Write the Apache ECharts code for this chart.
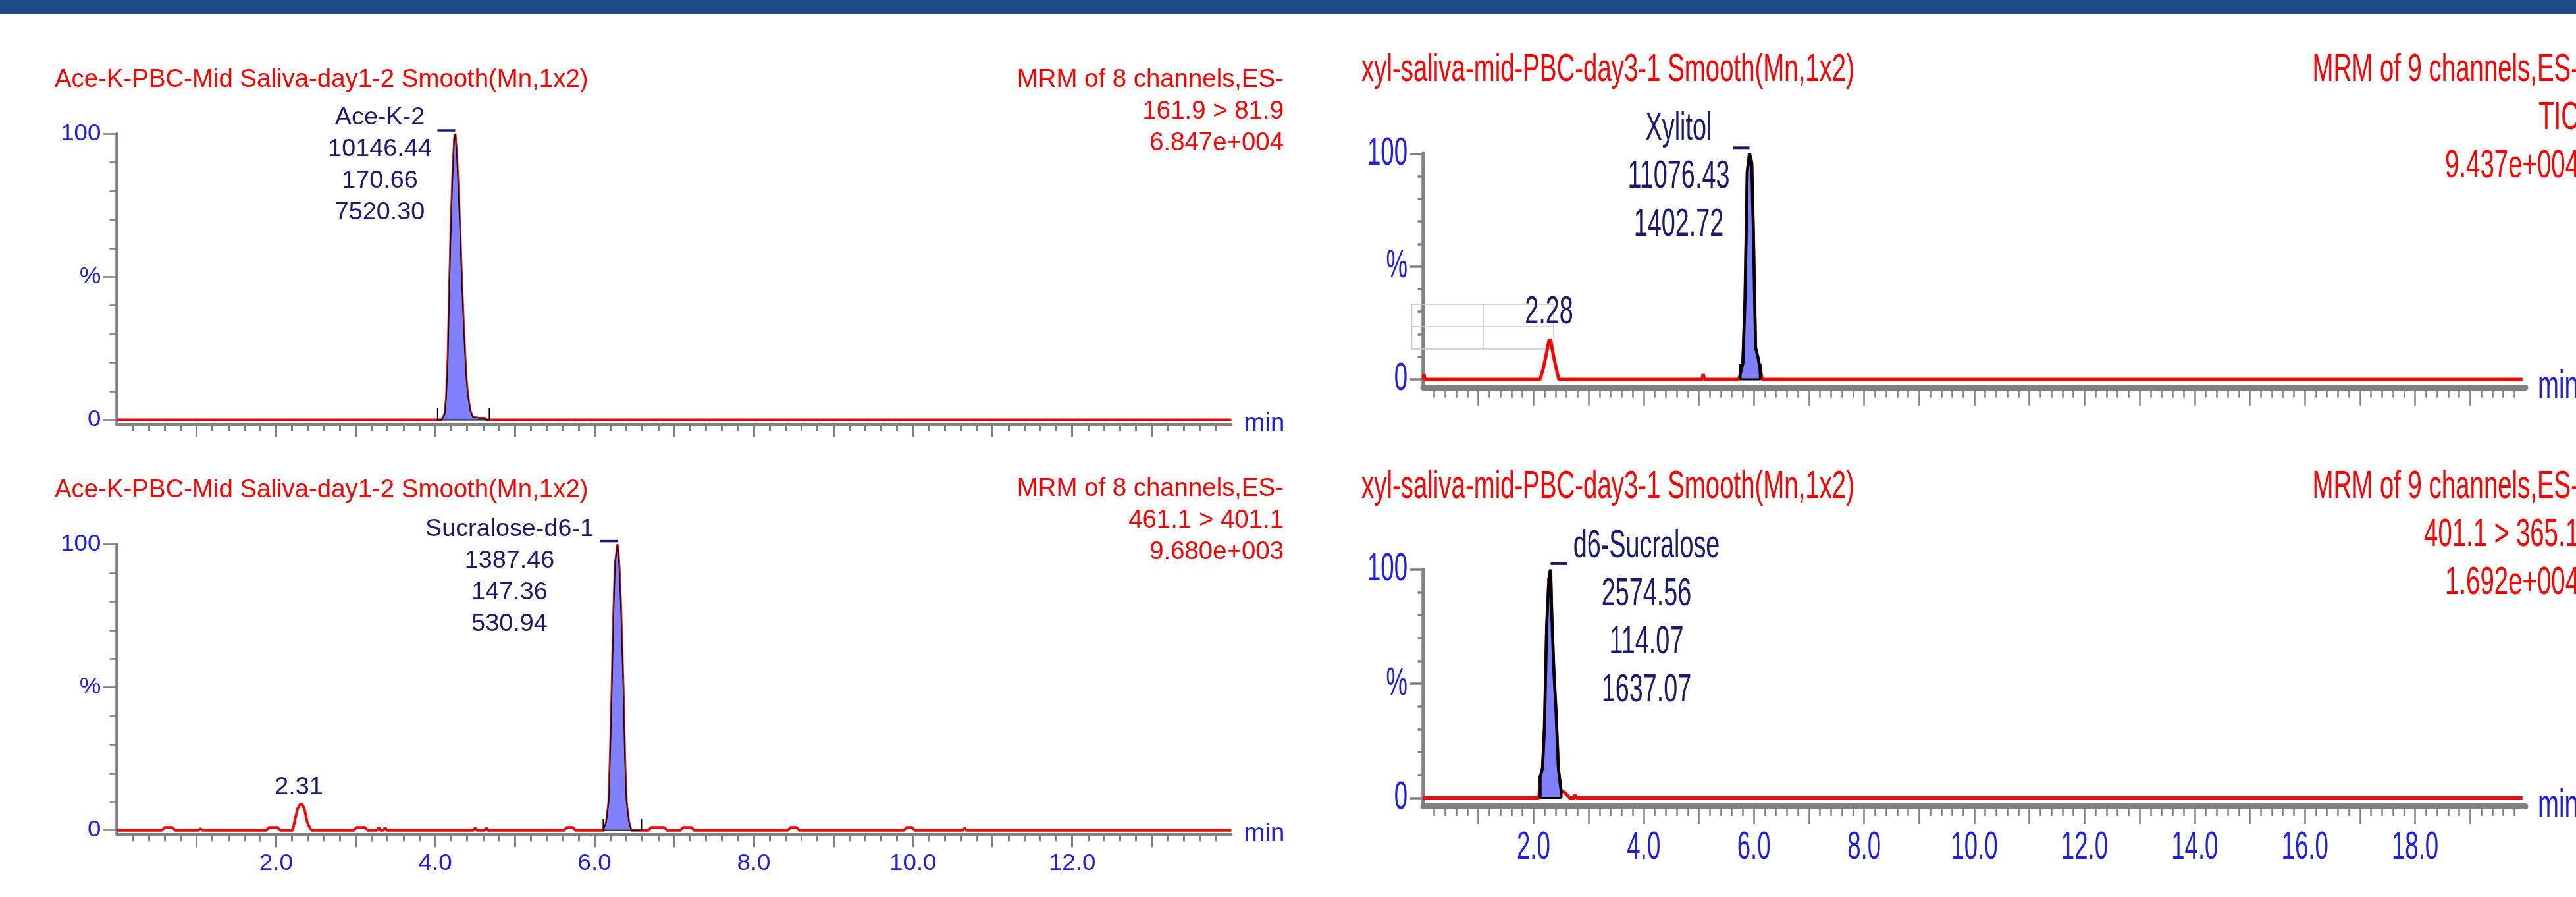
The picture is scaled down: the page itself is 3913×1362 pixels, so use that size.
<!DOCTYPE html>
<html>
<head>
<meta charset="utf-8">
<title>MRM chromatograms</title>
<script src="https://cdn.jsdelivr.net/npm/echarts@6/dist/echarts.min.js"></script>
<style>
  html, body { margin: 0; padding: 0; background: #fff; }
  #chart { width: 3913px; height: 1362px; }
</style>
</head>
<body>
<div id="chart"></div>
<script>
// ---- values: [retention time (min), intensity (%)] ----
const aceKTrace = [[0,0],[4.08,0],[4.12,2],[4.14,8],[4.16,22],[4.18,48],[4.20,70],[4.22,86],[4.24,98],[4.25,100],
  [4.27,92],[4.29,80],[4.31,66],[4.33,50],[4.35,36],[4.37,24],[4.39,14],[4.41,8],[4.44,3],[4.47,1],[4.55,0.6],
  [4.62,0.6],[4.64,0],[14,0]]
const sucraloseD6Trace = [[0,0],[0.57,0],[0.60,1],[0.70,1],[0.73,0],[1.03,0],[1.05,0.7],[1.07,0],[1.88,0],[1.91,1],
  [2.02,1],[2.05,0],[2.21,0],[2.24,4],[2.27,7.5],[2.30,9],[2.33,9],[2.36,7],[2.39,3],[2.43,0.5],[2.45,0],[2.98,0],
  [3.01,1],[3.12,1],[3.15,0],[3.27,0],[3.29,1],[3.31,0],[3.35,0],[3.37,1],[3.39,0],[4.48,0],[4.50,0.8],[4.52,0],
  [4.62,0],[4.64,0.8],[4.66,0],[5.62,0],[5.65,1],[5.73,1],[5.76,0],[6.12,0],[6.15,3],[6.18,10],[6.20,28],[6.22,50],
  [6.24,75],[6.26,93],[6.29,100],[6.31,92],[6.33,78],[6.36,50],[6.38,25],[6.40,10],[6.43,3],[6.46,0],[6.68,0],
  [6.71,1],[6.88,1],[6.91,0],[7.08,0],[7.11,1],[7.22,1],[7.25,0],[8.43,0],[8.46,1],[8.54,1],[8.57,0],[9.89,0],
  [9.92,1],[9.99,1],[10.02,0],[10.63,0],[10.65,0.8],[10.67,0],[14,0]]
const xylitolTrace = [[0,0],[0.01,2.3],[0.03,0],[2.12,0],[2.18,5],[2.24,12],[2.28,17],[2.31,17.5],[2.35,12],
  [2.41,5],[2.46,0],[5.06,0],[5.08,2.3],[5.10,0],[5.72,0],[5.75,2],[5.80,7],[5.84,36],[5.88,92],[5.92,100],
  [5.96,96],[5.99,65],[6.03,14],[6.07,10],[6.11,5],[6.15,0],[19.95,0]]
const d6SucraloseTrace = [[0,0],[2.10,0],[2.12,9],[2.165,13],[2.20,31],[2.24,75],[2.28,96],[2.31,100],[2.33,81],
  [2.37,55],[2.41,37],[2.45,13],[2.50,3],[2.56,2.5],[2.62,1],[2.66,0],[2.74,0],[2.76,1.5],[2.78,0],[19.95,0]]

// integration windows [start, end] (min) and apex of the integrated peak
const aceKWindow = [4.03, 4.68]
const sucraloseD6Window = [6.11, 6.59]
const xylitolWindow = [5.75, 6.12]
const d6SucraloseWindow = [2.12, 2.50]
const aceKApex = [4.25, 100]
const sucraloseD6Apex = [6.29, 100]
const xylitolApex = [5.92, 100]
const d6SucraloseApex = [2.31, 100]

// texts
const leftTitle = 'Ace-K-PBC-Mid Saliva-day1-2 Smooth(Mn,1x2)'
const rightTitle = 'xyl-saliva-mid-PBC-day3-1 Smooth(Mn,1x2)'
const aceKInfo = ['MRM of 8 channels,ES-', '161.9 > 81.9', '6.847e+004']
const sucraloseD6Info = ['MRM of 8 channels,ES-', '461.1 > 401.1', '9.680e+003']
const xylitolInfo = ['MRM of 9 channels,ES-', 'TIC', '9.437e+004']
const d6SucraloseInfo = ['MRM of 9 channels,ES-', '401.1 > 365.1', '1.692e+004']
const aceKLabel = ['Ace-K-2', '10146.44', '170.66', '7520.30']
const sucraloseD6Label = ['Sucralose-d6-1', '1387.46', '147.36', '530.94']
const xylitolLabel = ['Xylitol', '11076.43', '1402.72']
const d6SucraloseLabel = ['d6-Sucralose', '2574.56', '114.07', '1637.07']
const minorPeakLeft = '2.31'
const minorPeakRight = '2.28'

// tick labels
const leftTimeTicks = [2, 4, 6, 8, 10, 12]
const rightTimeTicks = [2, 4, 6, 8, 10, 12, 14, 16, 18]
const intensityTicks = [100, 50, 0]
const intensityTickLabels = ['100', '%', '0']
const intensityMinorTicks = [10, 20, 30, 40, 60, 70, 80, 90]

// ---- look ----
const RED = '#ff0000'
const GREY = '#808080'
const BLUE = '#1e1ee6'
const NAVY = '#1a1a72'
const FILL = '#8080ff'
const FONT = '"Liberation Sans", Arial, sans-serif'

const LEFT = { yAxisW: 4.5, xAxisW: 4, xTickW: 3, yTickW: 2.6, majX: 19, minX: 10, majY: 21, minY: 11,
  trace: 4, outline: 1.5, marker: 4, markerW: 2, font: 38, sx: 1.01, labFont: 37, labSx: 1.02,
  axFont: 35, axSx: 1.05, gap: 48, yLabGap: 24, xLabDy: 44, barDy: 5, barLen: 27, barW: 3.5 }
const RIGHT = { yAxisW: 5.5, xAxisW: 9, xTickW: 2.5, yTickW: 3.5, majX: 27, minX: 15, majY: 20, minY: 8.5,
  trace: 5, outline: 4.5, marker: 7, markerW: 3, font: 60, sx: 0.64, labFont: 60, labSx: 0.63,
  axFont: 60, axSx: 0.61, gap: 73, yLabGap: 24, xLabDy: 63, barDy: 9, barLen: 25, barW: 4 }

const panels = [
  { grid: { left: 177.5, top: 203, width: 1693, height: 441.8 }, xMax: 14, yMin: -1.68, st: LEFT,
    trace: aceKTrace, win: aceKWindow, apex: aceKApex, barDir: -1,
    title: leftTitle, titleX: 83, titleY: 122, info: aceKInfo, infoX: 1950, infoY: 122,
    label: aceKLabel, labelX: 577, labelY: 179, timeTicks: null, minor: null },
  { grid: { left: 177.5, top: 826.6, width: 1693, height: 440.6 }, xMax: 14, yMin: -1.5, st: LEFT,
    trace: sucraloseD6Trace, win: sucraloseD6Window, apex: sucraloseD6Apex, barDir: -1,
    title: leftTitle, titleX: 83, titleY: 745, info: sucraloseD6Info, infoX: 1950, infoY: 743,
    label: sucraloseD6Label, labelX: 774, labelY: 804, timeTicks: leftTimeTicks,
    minor: { text: minorPeakLeft, x: 454, y: 1196 } },
  { grid: { left: 2162, top: 233.3, width: 1674, height: 355.4 }, xMax: 20, yMin: -3.74, st: RIGHT,
    trace: xylitolTrace, win: xylitolWindow, apex: xylitolApex, barDir: -1,
    title: rightTitle, titleX: 2068, titleY: 106, info: xylitolInfo, infoX: 3918, infoY: 106,
    label: xylitolLabel, labelX: 2550, labelY: 195, timeTicks: null,
    minor: { text: minorPeakRight, x: 2353, y: 474 } },
  { grid: { left: 2162, top: 864.9, width: 1674, height: 359.2 }, xMax: 20, yMin: -3.64, st: RIGHT,
    trace: d6SucraloseTrace, win: d6SucraloseWindow, apex: d6SucraloseApex, barDir: 1,
    title: rightTitle, titleX: 2068, titleY: 739, info: d6SucraloseInfo, infoX: 3918, infoY: 739,
    label: d6SucraloseLabel, labelX: 2501, labelY: 829, timeTicks: rightTimeTicks, minor: null }
]

const grids = [], xAxes = [], yAxes = [], series = []
panels.forEach((p, i) => {
  const st = p.st
  grids.push(Object.assign({ outerBoundsMode: 'none', containLabel: false }, p.grid))
  let majors = []
  for (let t = 1; t < p.xMax; t++) majors.push(t)
  xAxes.push({
    type: 'value', gridIndex: i, position: 'bottom', min: 0, max: p.xMax, interval: 1,
    axisLine: { show: true, onZero: false, lineStyle: { color: GREY, width: st.xAxisW } },
    axisTick: { show: true, customValues: majors, length: st.majX, lineStyle: { color: GREY, width: st.xTickW } },
    minorTick: { show: true, splitNumber: 5, length: st.minX, lineStyle: { color: GREY, width: st.xTickW } },
    axisLabel: { show: false }, splitLine: { show: false }, minorSplitLine: { show: false }
  })
  // main intensity axis: line, long ticks at 0 / 50 / 100
  yAxes.push({
    type: 'value', gridIndex: i, position: 'left', offset: 0, min: p.yMin, max: 100,
    axisLine: { show: true, onZero: false, lineStyle: { color: GREY, width: st.yAxisW } },
    axisTick: { show: true, customValues: intensityTicks, length: st.majY, lineStyle: { color: GREY, width: st.yTickW } },
    axisLabel: { show: false }, splitLine: { show: false }
  })
  // same scale again, only for the short 10 % ticks
  yAxes.push({
    type: 'value', gridIndex: i, position: 'left', offset: 0, min: p.yMin, max: 100,
    axisLine: { show: false, onZero: false },
    axisTick: { show: true, customValues: intensityMinorTicks, length: st.minY, lineStyle: { color: GREY, width: st.yTickW } },
    axisLabel: { show: false }, splitLine: { show: false }
  })
  // trace
  series.push({
    type: 'line', xAxisIndex: i, yAxisIndex: 2 * i, data: p.trace, symbol: 'none', silent: true, z: 2,
    lineStyle: { color: RED, width: st.trace }
  })
  // integrated area
  const area = [[p.win[0], 0]].concat(p.trace.filter(d => d[0] >= p.win[0] && d[0] <= p.win[1]), [[p.win[1], 0]])
  series.push({
    type: 'line', xAxisIndex: i, yAxisIndex: 2 * i, data: area, symbol: 'none', silent: true, z: 3,
    lineStyle: { color: '#000', width: st.outline }, areaStyle: { color: FILL, opacity: 1 }
  })
  // integration start / end markers and baseline
  series.push({
    type: 'line', xAxisIndex: i, yAxisIndex: 2 * i, symbol: 'none', silent: true, z: 4,
    data: [[p.win[0], st.marker], [p.win[0], 0], [p.win[1], 0], [p.win[1], st.marker]],
    lineStyle: { color: '#000', width: st.markerW }
  })
})

const chart = echarts.init(document.getElementById('chart'))
chart.setOption({
  animation: false,
  backgroundColor: '#fff',
  grid: grids, xAxis: xAxes, yAxis: yAxes, series: series
})

function txt (x, y, text, color, size, sx, align) {
  return {
    type: 'text', x: x, y: y, scaleX: sx, scaleY: 1, silent: true, z: 50,
    style: { text: text, fill: color, fontSize: size, fontFamily: FONT, align: align, verticalAlign: 'middle' }
  }
}
function seg (x1, y1, x2, y2, color, w) {
  return { type: 'line', silent: true, z: 50, shape: { x1: x1, y1: y1, x2: x2, y2: y2 }, style: { stroke: color, lineWidth: w } }
}

const g = []
g.push({ type: 'rect', silent: true, z: 50, shape: { x: 0, y: 0, width: 3913, height: 21.5 }, style: { fill: '#1c4a84' } })
panels.forEach((p, i) => {
  const st = p.st
  const px = v => chart.convertToPixel({ gridIndex: i }, v)
  g.push(txt(p.titleX, p.titleY, p.title, RED, st.font, st.sx, 'left'))
  p.info.forEach((s, k) => g.push(txt(p.infoX, p.infoY + k * st.gap, s, RED, st.font, st.sx, 'right')))
  p.label.forEach((s, k) => g.push(txt(p.labelX, p.labelY + k * st.gap, s, NAVY, st.labFont, st.labSx, 'center')))
  const a = px(p.apex)
  g.push(seg(a[0], a[1] - st.barDy, a[0] + p.barDir * st.barLen, a[1] - st.barDy, NAVY, st.barW))
  intensityTicks.forEach((v, k) => {
    const q = px([0, v])
    g.push(txt(q[0] - st.yLabGap, q[1], intensityTickLabels[k], BLUE, st.axFont, st.axSx, 'right'))
  })
  if (p.timeTicks) {
    p.timeTicks.forEach(t => {
      const q = px([t, p.yMin])
      g.push(txt(q[0], q[1] + st.xLabDy, t.toFixed(1), BLUE, st.axFont, st.axSx, 'center'))
    })
  }
  const e = px([p.xMax, p.yMin])
  g.push(txt(e[0] + 19, e[1] - 1, 'min', BLUE, st.font, st.sx, 'left'))
  if (p.minor) g.push(txt(p.minor.x, p.minor.y, p.minor.text, NAVY, st.labFont, st.labSx, 'center'))
})
// faint table outline left over in the top-right trace
g.push({ type: 'rect', silent: true, z: 1, shape: { x: 2144.5, y: 462, width: 215.5, height: 68 }, style: { fill: 'none', stroke: '#c8c8c8', lineWidth: 1.5 } })
g.push(seg(2253, 462, 2253, 530, '#c8c8c8', 1.5))
g.push(seg(2144.5, 496, 2360, 496, '#c8c8c8', 1.5))

chart.setOption({ graphic: g })
</script>
</body>
</html>
